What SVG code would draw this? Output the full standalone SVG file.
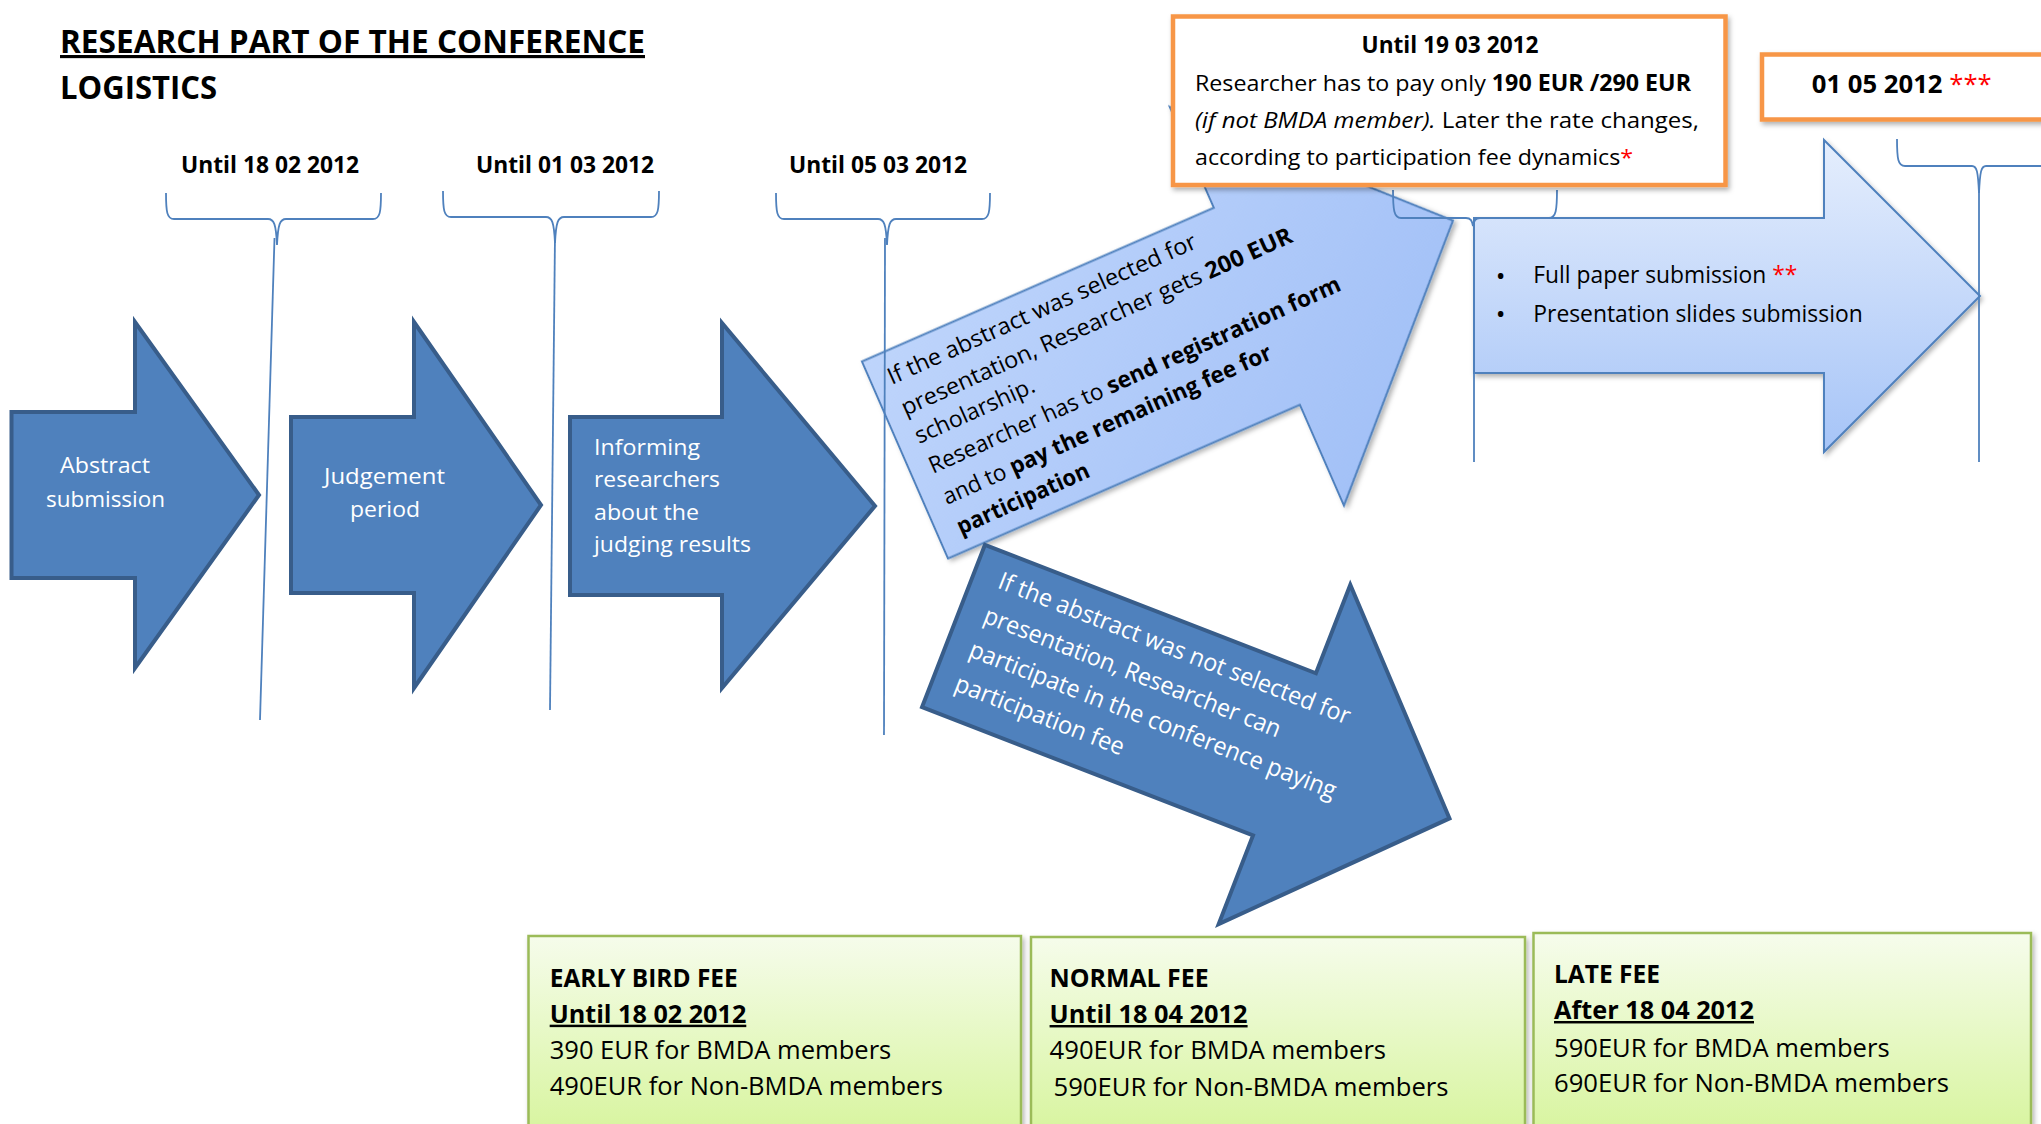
<svg xmlns="http://www.w3.org/2000/svg" width="2041" height="1124" viewBox="0 0 2041 1124">
<defs>
<style>
text{font-family:"Open Sans","Liberation Sans",sans-serif;fill:#000}
.b{font-weight:700}
.i{font-style:italic}
.w{fill:#fff}
.red{fill:#FF0000;font-weight:400}
.dark{fill:#4F81BD;stroke:#385D8A;stroke-width:4;stroke-miterlimit:10}
.l1{fill:url(#g1);stroke:#4F81BD;stroke-width:2}
.l2{fill:url(#g2);stroke:#4F81BD;stroke-width:2}
.conn path,.conn line{fill:none;stroke:#4F81BD;stroke-width:1.8}
.orange{fill:#fff;stroke:#F79646;stroke-width:4.5}
.fee{fill:url(#gf);stroke:#9BBB59;stroke-width:2.5}
.u{text-decoration:underline}
</style>
<linearGradient id="g1" x1="0" y1="0" x2="1" y2="1">
<stop offset="0" stop-color="#C3D8FC"/>
<stop offset="1" stop-color="#9CBCF6"/>
</linearGradient>
<linearGradient id="g2" gradientUnits="userSpaceOnUse" x1="0" y1="140" x2="0" y2="452">
<stop offset="0" stop-color="#E5EEFD"/>
<stop offset="1" stop-color="#A6C4F7"/>
</linearGradient>
<linearGradient id="gf" gradientUnits="userSpaceOnUse" x1="0" y1="934" x2="0" y2="1124">
<stop offset="0" stop-color="#F6FCEC"/>
<stop offset="1" stop-color="#D9F5A2"/>
</linearGradient>
<filter id="sh" x="-10%" y="-10%" width="130%" height="130%">
<feDropShadow dx="2" dy="3" stdDeviation="2.5" flood-color="#000" flood-opacity="0.3"/>
</filter>
</defs>
<rect width="2041" height="1124" fill="#fff"/>

<g id="title">
<text x="60" y="53" class="b u" font-size="31.5" textLength="585" lengthAdjust="spacingAndGlyphs">RESEARCH PART OF THE CONFERENCE</text>
<text x="60" y="99" class="b" font-size="31.5" textLength="157" lengthAdjust="spacingAndGlyphs">LOGISTICS</text>
</g>

<g id="date-labels">
<text x="181" y="173" class="b" font-size="24" textLength="178" lengthAdjust="spacingAndGlyphs">Until 18 02 2012</text>
<text x="476" y="173" class="b" font-size="24" textLength="178" lengthAdjust="spacingAndGlyphs">Until 01 03 2012</text>
<text x="789" y="173" class="b" font-size="24" textLength="178" lengthAdjust="spacingAndGlyphs">Until 05 03 2012</text>
</g>

<g id="abstract-submission">
<polygon class="dark" points="11.5,412 135,412 135,322 259,495 135,668 135,578 11.5,578"/>
<text x="105" y="473" class="w" font-size="22.5" text-anchor="middle" textLength="90" lengthAdjust="spacingAndGlyphs">Abstract</text>
<text x="105.5" y="507" class="w" font-size="22.5" text-anchor="middle" textLength="119" lengthAdjust="spacingAndGlyphs">submission</text>
</g>

<g id="judgement-period">
<polygon class="dark" points="291,417 414,417 414,322 541,505 414,688 414,593 291,593"/>
<text x="384.5" y="484" class="w" font-size="22.5" text-anchor="middle" textLength="121" lengthAdjust="spacingAndGlyphs">Judgement</text>
<text x="385" y="517" class="w" font-size="22.5" text-anchor="middle" textLength="70" lengthAdjust="spacingAndGlyphs">period</text>
</g>

<g id="informing-researchers">
<polygon class="dark" points="570,417 722,417 722,323 875,506 722,688 722,595 570,595"/>
<text x="594" y="455" class="w" font-size="22.5" textLength="106" lengthAdjust="spacingAndGlyphs">Informing</text>
<text x="594" y="487" class="w" font-size="22.5" textLength="126" lengthAdjust="spacingAndGlyphs">researchers</text>
<text x="594" y="520" class="w" font-size="22.5" textLength="105" lengthAdjust="spacingAndGlyphs">about the</text>
<text x="594" y="552" class="w" font-size="22.5" textLength="157" lengthAdjust="spacingAndGlyphs">judging results</text>
</g>

<g id="selected-branch">
<polygon class="l1" filter="url(#sh)" transform="translate(905,460) rotate(-23.6)" points="0,-107.5 384,-107.5 384,-217.5 598,0 384,217.5 384,107.5 0,107.5"/>
<g font-size="23">
<text transform="translate(891.7,385) rotate(-24.2)" textLength="336" lengthAdjust="spacingAndGlyphs">If the abstract was selected for</text>
<text transform="translate(905.5,416) rotate(-24.2)" textLength="426" lengthAdjust="spacingAndGlyphs">presentation, Researcher gets <tspan class="b">200 EUR</tspan></text>
<text transform="translate(919,444) rotate(-24.2)" textLength="129" lengthAdjust="spacingAndGlyphs">scholarship.</text>
<text transform="translate(933,474) rotate(-24.2)" textLength="449" lengthAdjust="spacingAndGlyphs">Researcher has to <tspan class="b">send registration form</tspan></text>
<text transform="translate(947,505) rotate(-24.2)" textLength="358" lengthAdjust="spacingAndGlyphs">and to <tspan class="b">pay the remaining fee for</tspan></text>
<text transform="translate(961,535) rotate(-24.2)" class="b" textLength="143" lengthAdjust="spacingAndGlyphs">participation</text>
</g>
</g>

<g id="not-selected-branch">
<polygon class="dark" transform="translate(953.5,626) rotate(21.2)" points="0,-87 355,-87 355,-182 532,0 355,182 355,87 0,87"/>
<g font-size="24.5">
<text transform="translate(996.5,587.5) rotate(21.4)" class="w" textLength="376" lengthAdjust="spacingAndGlyphs">If the abstract was not selected for</text>
<text transform="translate(982,622) rotate(21.4)" class="w" textLength="317" lengthAdjust="spacingAndGlyphs">presentation, Researcher can</text>
<text transform="translate(967.5,656) rotate(21.4)" class="w" textLength="392" lengthAdjust="spacingAndGlyphs">participate in the conference paying</text>
<text transform="translate(953,690) rotate(21.4)" class="w" textLength="180" lengthAdjust="spacingAndGlyphs">participation fee</text>
</g>
</g>

<g id="submissions">
<polygon class="l2" filter="url(#sh)" points="1474,218 1824,218 1824,140 1980,296 1824,452 1824,373 1474,373"/>
<text x="1500.7" y="285" font-size="26" text-anchor="middle">•</text>
<text x="1500.7" y="323" font-size="26" text-anchor="middle">•</text>
<text x="1533.3" y="283.3" font-size="23" textLength="264" lengthAdjust="spacingAndGlyphs">Full paper submission <tspan class="red">**</tspan></text>
<text x="1533.3" y="321.7" font-size="23" textLength="329.4" lengthAdjust="spacingAndGlyphs">Presentation slides submission</text>
</g>

<g id="connectors" class="conn">
<path d="M166,193 C166,212 167,219 174,219 L268,219 C274,219 276,224 277,245 C278,224 280,219 286,219 L373,219 C380,219 381,212 381,193"/>
<path d="M443,191 C443,210 444,217 451,217 L546,217 C552,217 554,222 555,243 C556,222 558,217 564,217 L651,217 C658,217 659,210 659,191"/>
<path d="M776,193 C776,212 777,219 784,219 L878,219 C884,219 886,224 887,245 C888,224 890,219 896,219 L982,219 C989,219 990,212 990,193"/>
<path d="M1393,190 C1393,210 1394,218 1401,218 L1466,218 C1471,218 1472,221 1473,226 C1474,221 1475,218 1480,218 L1549,218 C1556,218 1557,210 1557,190"/>
<path d="M1897,139 C1897,159 1898,166 1905,166 L1972,166 C1977,166 1978,172 1979,193 C1980,172 1981,166 1986,166 L2052,166 C2059,166 2060,159 2060,139"/>
<line x1="274.5" y1="238" x2="260" y2="720"/>
<line x1="555" y1="236" x2="550" y2="710"/>
<line x1="885" y1="238" x2="884" y2="735"/>
<line x1="1474" y1="220" x2="1474" y2="462"/>
<line x1="1979" y1="188" x2="1979" y2="462"/>
</g>

<g id="scholarship-deadline">
<rect class="orange" filter="url(#sh)" x="1173" y="16.5" width="552.5" height="168.5"/>
<text x="1450" y="52.5" class="b" font-size="23" text-anchor="middle" textLength="177" lengthAdjust="spacingAndGlyphs">Until 19 03 2012</text>
<text x="1195" y="91" font-size="22.5" textLength="496" lengthAdjust="spacingAndGlyphs">Researcher has to pay only <tspan class="b">190 EUR /290 EUR</tspan></text>
<text x="1195" y="128" font-size="22.5" textLength="504" lengthAdjust="spacingAndGlyphs"><tspan class="i">(if not BMDA member).</tspan> Later the rate changes,</text>
<text x="1195" y="165" font-size="22.5" textLength="438" lengthAdjust="spacingAndGlyphs">according to participation fee dynamics<tspan class="red">*</tspan></text>
</g>

<g id="final-deadline">
<rect class="orange" filter="url(#sh)" x="1762" y="54.5" width="320" height="65"/>
<text x="1811.7" y="93.3" class="b" font-size="25.5" textLength="180" lengthAdjust="spacingAndGlyphs">01 05 2012 <tspan class="red">***</tspan></text>
</g>

<g id="early-bird-fee">
<rect class="fee" filter="url(#sh)" x="528.5" y="936" width="492.5" height="210"/>
<text x="549.7" y="986.7" class="b" font-size="24.5" textLength="188" lengthAdjust="spacingAndGlyphs">EARLY BIRD FEE</text>
<text x="549.7" y="1022.7" class="b u" font-size="24.5" textLength="196.6" lengthAdjust="spacingAndGlyphs">Until 18 02 2012</text>
<text x="549.7" y="1059" font-size="26" textLength="341.6" lengthAdjust="spacingAndGlyphs">390 EUR for BMDA members</text>
<text x="549.7" y="1095" font-size="26" textLength="393.3" lengthAdjust="spacingAndGlyphs">490EUR for Non-BMDA members</text>
</g>

<g id="normal-fee">
<rect class="fee" filter="url(#sh)" x="1031" y="937" width="494" height="210"/>
<text x="1049.6" y="987" class="b" font-size="24.5" textLength="159" lengthAdjust="spacingAndGlyphs">NORMAL FEE</text>
<text x="1049.6" y="1023" class="b u" font-size="24.5" textLength="198" lengthAdjust="spacingAndGlyphs">Until 18 04 2012</text>
<text x="1049.6" y="1059" font-size="26" textLength="336.5" lengthAdjust="spacingAndGlyphs">490EUR for BMDA members</text>
<text x="1053.5" y="1096" font-size="26" textLength="395" lengthAdjust="spacingAndGlyphs">590EUR for Non-BMDA members</text>
</g>

<g id="late-fee">
<rect class="fee" filter="url(#sh)" x="1533.5" y="933" width="497.5" height="210"/>
<text x="1554" y="983" class="b" font-size="24.5" textLength="106" lengthAdjust="spacingAndGlyphs">LATE FEE</text>
<text x="1554" y="1019" class="b u" font-size="24.5" textLength="200" lengthAdjust="spacingAndGlyphs">After 18 04 2012</text>
<text x="1554" y="1057" font-size="26" textLength="335.6" lengthAdjust="spacingAndGlyphs">590EUR for BMDA members</text>
<text x="1554" y="1092" font-size="26" textLength="395" lengthAdjust="spacingAndGlyphs">690EUR for Non-BMDA members</text>
</g>
</svg>
